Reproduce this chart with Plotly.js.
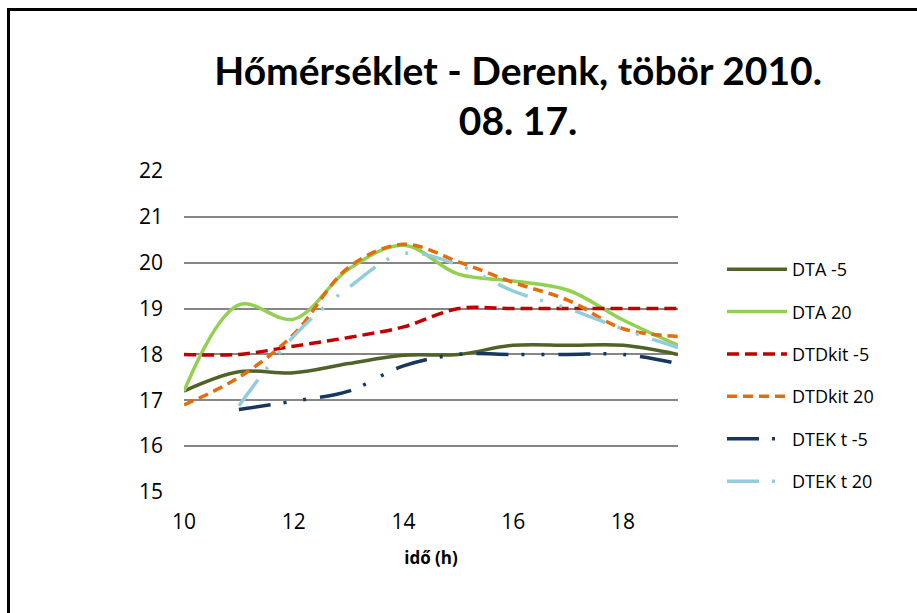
<!DOCTYPE html>
<html>
<head>
<meta charset="utf-8">
<script src="https://cdn.plot.ly/plotly-3.0.1.min.js"></script>
<style>
  html, body { margin: 0; padding: 0; background: #fff; }
  #wrap { position: relative; width: 917px; height: 613px; overflow: hidden; }
  #chart { width: 917px; height: 613px; }
  #frame { position: absolute; left: 7px; top: 8px; width: 930px; height: 640px;
           border-left: 3px solid #000; border-top: 3px solid #000; pointer-events: none; }
</style>
</head>
<body>
<div id="wrap">
  <div id="chart"></div>
  <div id="frame"></div>
</div>
<script>
const hours = [10, 11, 12, 13, 14, 15, 16, 17, 18, 19];
const dtaM5    = [17.2, 17.62, 17.6, 17.8, 17.98, 18.0, 18.2, 18.2, 18.2, 18.0];
const dta20    = [17.2, 19.08, 18.77, 19.86, 20.38, 19.75, 19.6, 19.4, 18.75, 18.2];
const dtdkitM5 = [18.0, 18.0, 18.18, 18.37, 18.6, 19.0, 19.0, 19.0, 19.0, 19.0];
const dtdkit20 = [16.9, 17.5, 18.44, 19.9, 20.4, 20.02, 19.57, 19.18, 18.56, 18.39];
const dtekM5   = [null, 16.8, 16.98, 17.2, 17.75, 18.0, 18.0, 18.0, 18.0, 17.8];
const dtek20   = [null, 16.88, 18.4, 19.46, 20.2, 19.95, 19.38, 19.0, 18.55, 18.15];
const seriesNames = ["DTA -5", "DTA 20", "DTDkit -5", "DTDkit 20", "DTEK t -5", "DTEK t 20"];
const xTicks = [10, 12, 14, 16, 18];
const yTicks = [15, 16, 17, 18, 19, 20, 21, 22];

const TITLE_FONT = "Lato, 'Open Sans', sans-serif";
const FONT = "'Open Sans', Lato, sans-serif";
const dashDotDot = "32px,13px,3px,17px,3px,14px";

function tr(y, name, color, dash, width, grp) {
  return {
    x: hours, y: y, name: name, type: "scatter", mode: "lines",
    connectgaps: false, legendgroup: grp,
    line: { color: color, width: width, dash: dash, shape: "spline", smoothing: 1 }
  };
}

const data = [
  tr(dtaM5,    seriesNames[0], "#4F6228", "solid", 3.5, "a"),
  tr(dta20,    seriesNames[1], "#92D050", "solid", 3.5, "b"),
  tr(dtdkitM5, seriesNames[2], "#C00000", "12px,6px", 3.5, "c"),
  tr(dtdkit20, seriesNames[3], "#E46C0A", "10px,6px", 3.5, "d"),
  tr(dtekM5,   seriesNames[4], "#17375E", dashDotDot, 3.5, "e"),
  tr(dtek20,   seriesNames[5], "#93CDDD", dashDotDot, 3.5, "f")
];

const layout = {
  width: 917, height: 613,
  margin: { l: 184, r: 239, t: 171, b: 121 },
  paper_bgcolor: "#ffffff", plot_bgcolor: "#ffffff",
  font: { family: FONT, color: "#000", size: 19 },
  title: {
    text: "<b>Hőmérséklet - Derenk, töbör 2010.<br>08. 17.</b>",
    font: { family: TITLE_FONT, size: 39, color: "#000" },
    x: 0.565, xref: "container", xanchor: "center",
    y: 0.862, yref: "container", yanchor: "top"
  },
  xaxis: {
    range: [10, 19], tickvals: xTicks, ticktext: xTicks.map(String),
    showgrid: false, zeroline: false, showline: false, ticks: "",
    ticklabelstandoff: 15,
    tickfont: { family: FONT, size: 21, color: "#000" },
    title: { text: "<b>idő (h)</b>", font: { family: FONT, size: 17, color: "#000" }, standoff: 18 }
  },
  yaxis: {
    range: [15, 22], tickvals: yTicks, ticktext: yTicks.map(String),
    showgrid: true, gridcolor: "#868686", gridwidth: 2,
    zeroline: false, showline: false, ticks: "",
    ticklabelstandoff: 20,
    tickfont: { family: FONT, size: 21, color: "#000" }
  },
  legend: {
    x: 1.089, xref: "paper", xanchor: "left",
    y: 0.751, yref: "paper", yanchor: "top",
    font: { family: FONT, size: 18, color: "#000" },
    tracegroupgap: 16, itemwidth: 60,
    bgcolor: "rgba(0,0,0,0)"
  },
  showlegend: true
};

Plotly.newPlot("chart", data, layout, { displayModeBar: false, staticPlot: true });
</script>
</body>
</html>
